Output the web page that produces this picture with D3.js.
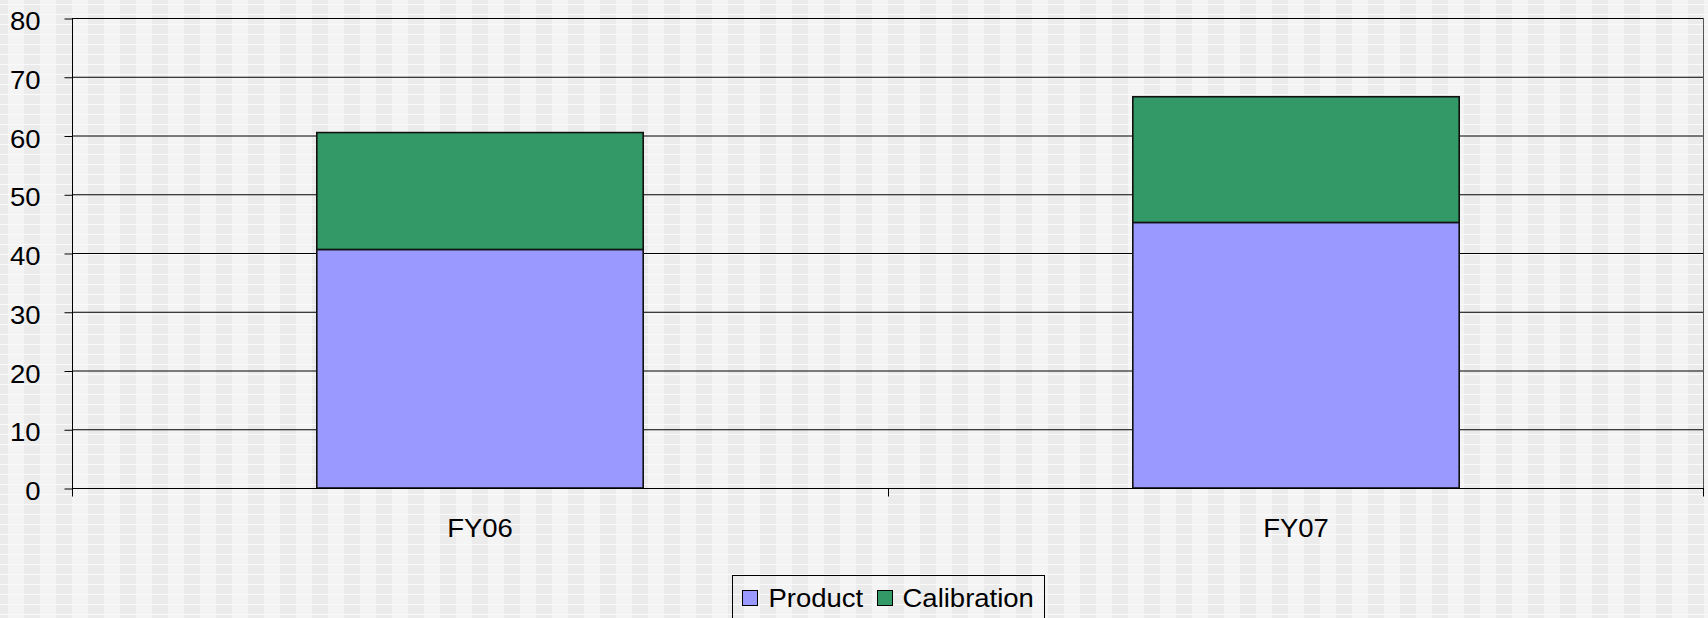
<!DOCTYPE html>
<html>
<head>
<meta charset="utf-8">
<script src="https://cdn.jsdelivr.net/npm/d3@7"></script>
<style>
  html, body { margin: 0; padding: 0; background: #f2f2f2; }
  svg { display: block; font-family: "Liberation Sans", Arial, sans-serif; }
</style>
</head>
<body>
<svg></svg>
<script>
// chart data
let categories = ['FY06', 'FY07']
let product = [40.6, 45.2]
let calibration = [19.9, 21.4]
let seriesNames = ['Product', 'Calibration']
let yTicks = [0, 10, 20, 30, 40, 50, 60, 70, 80]

let width = 1708
let height = 618
let colors = { Product: '#9999ff', Calibration: '#339966' }
// text in the original is a little stretched sideways
let fontSize = 25
let stretch = 'scale(1.1, 1)'

// plot area
let plotLeft = 72
let plotRight = 1704
let plotTop = 18
let plotBottom = 488

let svg = d3.select('svg')
svg.attr('width', width).attr('height', height)

// excel-ish striped background
let defs = svg.append('defs')
let pat = defs.append('pattern')
              .attr('id', 'bg')
              .attr('patternUnits', 'userSpaceOnUse')
              .attr('x', 8).attr('y', 4)
              .attr('width', 32).attr('height', 10)
pat.append('rect').attr('width', 16).attr('height', 10).attr('fill', '#f4f4f4')
pat.append('rect').attr('x', 16).attr('width', 16).attr('height', 10).attr('fill', '#ebebeb')
pat.append('rect').attr('y', 0).attr('width', 32).attr('height', 1).attr('fill', '#fafafa')

svg.append('rect')
   .attr('width', width).attr('height', height)
   .attr('fill', 'url(#bg)')

let rows = categories.map((c, i) => ({ cat: c, Product: product[i], Calibration: calibration[i] }))
let stacked = d3.stack().keys(seriesNames)(rows)

let xScale = d3.scaleBand()
               .domain(categories)
               .range([plotLeft, plotRight])
               .padding(0)

let yScale = d3.scaleLinear()
               .domain([0, 80])
               .range([plotBottom, plotTop])

// gridlines
svg.append('g')
   .selectAll('line')
   .data(yTicks.slice(1))
   .enter()
   .append('line')
   .attr('x1', plotLeft).attr('x2', plotRight)
   .attr('y1', d => yScale(d) + 0.5).attr('y2', d => yScale(d) + 0.5)
   .attr('stroke', '#000')
   .attr('stroke-width', 1)

// right border
svg.append('line')
   .attr('x1', plotRight - 0.5).attr('x2', plotRight - 0.5)
   .attr('y1', plotTop).attr('y2', plotBottom)
   .attr('stroke', '#555')

// bars
let barW = xScale.bandwidth() * 0.4
svg.append('g')
   .selectAll('g')
   .data(stacked)
   .enter()
   .append('g')
   .attr('fill', d => colors[d.key])
   .selectAll('rect')
   .data(d => d)
   .enter()
   .append('rect')
   .attr('x', d => xScale(d.data.cat) + (xScale.bandwidth() - barW) / 2)
   .attr('width', barW)
   .attr('y', d => yScale(d[1]))
   .attr('height', d => yScale(d[0]) - yScale(d[1]))
   .attr('stroke', '#111')
   .attr('stroke-width', 1.6)

// y axis
let yAxis = d3.axisLeft(yScale).tickValues(yTicks).tickSize(8).tickPadding(21)
let gy = svg.append('g')
   .attr('transform', 'translate(' + (plotLeft + 0.5) + ', 0.5)')
   .call(yAxis)
gy.select('.domain').attr('d', 'M0,' + (plotTop - 0.5) + 'V' + (plotBottom + 8))
gy.selectAll('line').attr('stroke', '#000')
gy.selectAll('text')
  .attr('font-size', fontSize)
  .attr('fill', '#000')
  .attr('dy', '0.44em')
  .attr('transform', stretch)

// x axis
let xAxis = d3.axisBottom(xScale).tickSize(0).tickPadding(31)
let gx = svg.append('g')
   .attr('transform', 'translate(0, ' + (plotBottom + 0.5) + ')')
   .call(xAxis)
gx.select('.domain').attr('d', 'M' + plotLeft + ',0H' + plotRight).attr('stroke', '#000')
gx.selectAll('text')
  .attr('font-size', fontSize)
  .attr('fill', '#000')
  .attr('transform', stretch)
// category separator ticks
gx.selectAll('.sep')
  .data(categories.slice(1).map(c => xScale(c)).concat([plotRight - 1]))
  .enter()
  .append('line')
  .attr('class', 'sep')
  .attr('x1', d => d + 0.5).attr('x2', d => d + 0.5)
  .attr('y1', 0).attr('y2', 8)
  .attr('stroke', '#000')

// legend
let legend = svg.append('g').attr('transform', 'translate(732.5, 575.5)')
legend.append('rect')
      .attr('width', 312).attr('height', 50)
      .attr('fill', 'none')
      .attr('stroke', '#000')
let items = [
  { name: seriesNames[0], x: 10, tx: 36 },
  { name: seriesNames[1], x: 145, tx: 170 }
]
let li = legend.selectAll('.item')
               .data(items)
               .enter()
               .append('g')
               .attr('class', 'item')
li.append('rect')
  .attr('x', d => d.x).attr('y', 15)
  .attr('width', 15).attr('height', 15)
  .attr('fill', d => colors[d.name])
  .attr('stroke', '#000')
li.append('text')
  .attr('transform', d => 'translate(' + d.tx + ', 31.5) ' + stretch)
  .attr('font-size', fontSize)
  .text(d => d.name)
</script>
</body>
</html>
